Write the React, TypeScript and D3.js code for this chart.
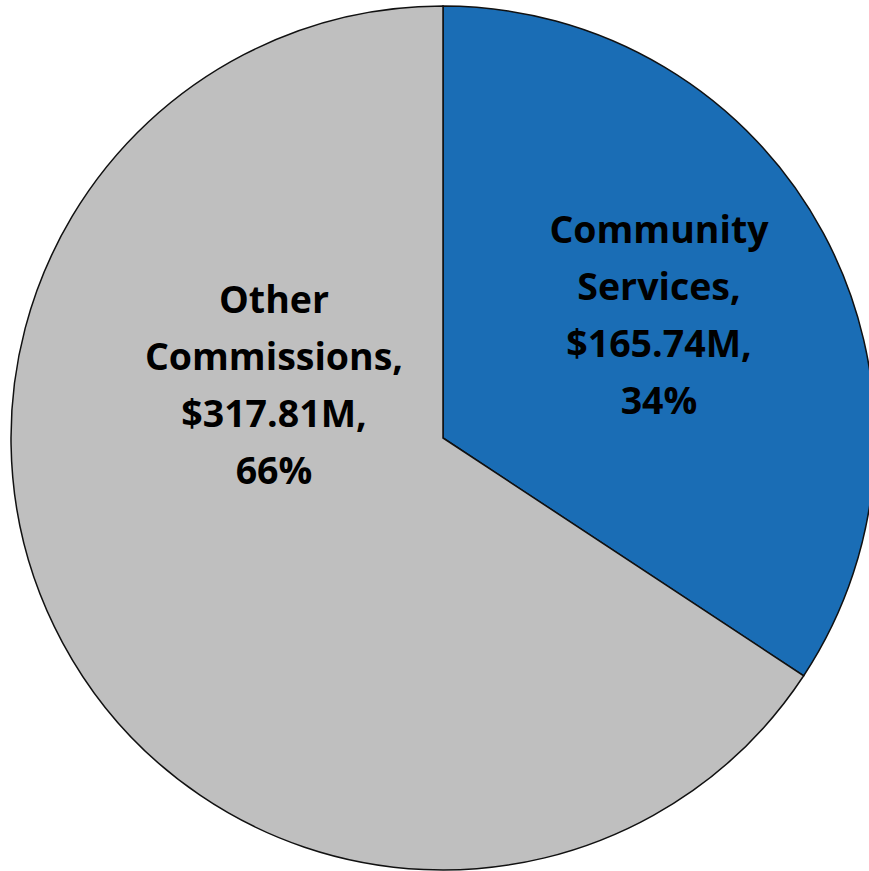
import React from "react";
import * as d3 from "d3";

const categories = ["Community Services", "Other Commissions"];
const values = [165.74, 317.81];
const percents = ["34%", "66%"];
const colors = ["#1a6db5", "#bfbfbf"];
const labelLines = [
  ["Community", "Services,", "$165.74M,", "34%"],
  ["Other", "Commissions,", "$317.81M,", "66%"],
];

const W = 869;
const H = 871;
const cx = 443;
const cy = 438;
const R = 432;

export default function App() {
  const pie = d3.pie<number>().sort(null).value((d) => d);
  const arcs = pie(values);
  const arc = d3.arc<d3.PieArcDatum<number>>().innerRadius(0).outerRadius(R);
  const labelPos = [
    { x: 659, y: 243 - cy },
    { x: 274, y: 313 - cy },
  ];
  return (
    <svg
      width={W}
      height={H}
      style={{ position: "fixed", left: 0, top: 0, background: "#fff" }}
    >
      <g transform={`translate(${cx},${cy})`}>
        {arcs.map((a, i) => (
          <path
            key={categories[i]}
            d={arc(a) || ""}
            fill={colors[i]}
            stroke="#111"
            strokeWidth={1.5}
          />
        ))}
      </g>
      {labelLines.map((lines, i) => (
        <text
          key={i}
          textAnchor="middle"
          fontFamily="'Open Sans', sans-serif"
          fontWeight={700}
          fontSize={37.5}
          fill="#000"
        >
          {lines.map((l, j) => (
            <tspan key={j} x={labelPos[i].x} y={cy + labelPos[i].y + j * 57}>
              {l}
            </tspan>
          ))}
        </text>
      ))}
    </svg>
  );
}
